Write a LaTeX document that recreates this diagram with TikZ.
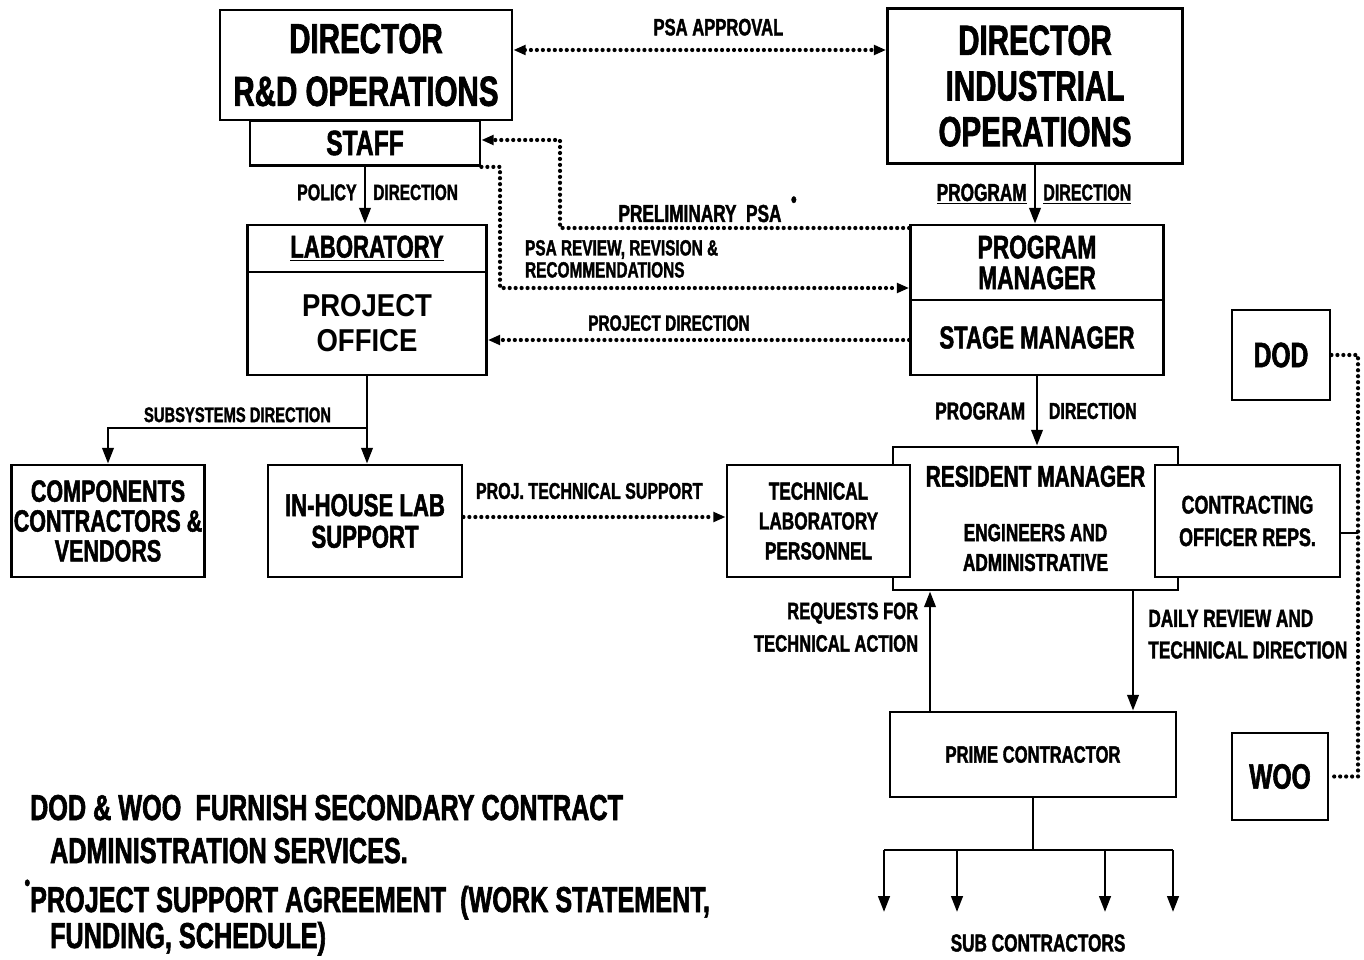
\documentclass[tikz,border=0pt]{standalone}
\usepackage{fontspec}
\usetikzlibrary{arrows.meta}
\newfontfamily\heavy{Liberation Sans}[FakeStretch=0.7,FakeBold=1.6]
\newfontfamily\plainsans{Liberation Sans}[FakeStretch=0.87]

\tikzset{
  box/.style={draw, line width=1.6pt, fill=white, inner sep=0pt, align=center},
  sz/.style 2 args={minimum width=#1*0.02cm, minimum height=#2*0.02cm},
  fnt/.style 2 args={font=\heavy\bfseries\fontsize{#1}{#2}\selectfont},
  lbl/.style={inner sep=1pt},
  feed/.style={line width=1.5pt, -{Triangle[length=9pt,width=6.5pt]}},
  dots/.style={line width=2.4pt, line cap=round, dash pattern=on 0pt off 3.4pt},
  >={Triangle[length=7pt,width=5.5pt]},
}

\begin{document}
\begin{tikzpicture}[x=0.02cm,y=-0.02cm]
\useasboundingbox (0,0) rectangle (1364,959);

% R&D side
\node[box, sz={230}{45}, fnt={20}{24}] (staff) at (365,143) {STAFF};
\node[box, sz={292}{110}, fnt={24}{30}] (dirrd) at (366,65) {DIRECTOR\\R\&D OPERATIONS};
\node[box, sz={239}{47}, fnt={18}{21}] (lab) at (367,248.5) {\underline{LABORATORY}};
\node[box, sz={239}{103}, font=\plainsans\bfseries\fontsize{18}{20}\selectfont] (projoff) at (367,323.5) {PROJECT\\OFFICE};
\node[box, sz={193}{112}, fnt={17.5}{17}] (comp) at (108,521) {COMPONENTS\\CONTRACTORS \&\\VENDORS};
\node[box, sz={194}{112}, fnt={18}{18}] (inhouse) at (365,521) {IN-HOUSE LAB\\SUPPORT};

% industrial side
\node[box, sz={295}{155}, fnt={24}{26}] (dirind) at (1035,86) {DIRECTOR\\INDUSTRIAL\\OPERATIONS};
\node[box, sz={253}{75}, fnt={18.5}{17.5}] (progman) at (1037,262.5) {PROGRAM\\MANAGER};
\node[box, sz={253}{75}, fnt={18}{20}] (stageman) at (1037,337.5) {STAGE MANAGER};
\node[box, sz={285}{143}, fnt={14}{17}] (resident) at (1035.5,518.5) {{\fontsize{17}{20}\selectfont RESIDENT MANAGER}\\[14pt]ENGINEERS AND\\ADMINISTRATIVE};
\node[box, sz={183}{112}, fnt={14}{17}] (techlab) at (818.5,521) {TECHNICAL\\LABORATORY\\PERSONNEL};
\node[box, sz={185}{112}, fnt={14.5}{18.5}] (cor) at (1247.5,521) {CONTRACTING\\OFFICER REPS.};
\node[box, sz={286}{85}, fnt={13.5}{16}] (prime) at (1033,754.5) {PRIME CONTRACTOR};
\node[box, sz={98}{90}, fnt={20}{24}] (dod) at (1281,355) {DOD};
\node[box, sz={96}{87}, fnt={20}{24}] (woo) at (1280,776.5) {WOO};
\node[lbl, fnt={14}{16}] (subs) at (1038,943) {SUB CONTRACTORS};

% bends and bus
\coordinate (prelimbend) at (560,140);
\coordinate (reviewbend) at (500,288);
\coordinate (subsplit) at (367,428);
\coordinate (reqx) at (930,0);
\coordinate (dailyx) at (1133,0);
\coordinate (subbar) at (1033,850);
\coordinate (busline) at (1358,0);
\foreach \xx [count=\i] in {884,957,1105,1173} \coordinate (sub\i) at (\xx,912);

% dotted links
\draw[dots, <->] (dirrd.east |- 0,50) -- node[lbl, pos=0.55, above=6pt, fnt={13.5}{16}] (lapprov) {PSA APPROVAL} (dirind.west |- 0,50);
\draw[dots, ->] (progman.west |- 0,228) -| (prelimbend) -- (staff.east |- prelimbend);
\node[lbl, fnt={14}{16}, anchor=base] (lprelim) at (700,222) {PRELIMINARY\ \ PSA\rlap{\raisebox{.6em}{\ \ \fontsize{13}{13}\selectfont\textbullet}}};
\draw[dots, ->] (staff.south east) -| (reviewbend) -- (progman.west |- reviewbend);
\node[lbl, fnt={12.5}{12.5}, anchor=north west, align=left] (lreview) at (523,238) {PSA REVIEW, REVISION \&\\RECOMMENDATIONS};
\draw[dots, ->] (stageman.west |- 0,340) -- node[lbl, pos=0.57, above=3pt, fnt={12.5}{15}] (lprojdir) {PROJECT DIRECTION} (projoff.east |- 0,340);
\draw[dots, ->] (inhouse.east |- 0,517) -- node[lbl, pos=0.48, above=8pt, fnt={13}{15}] (ltechsup) {PROJ. TECHNICAL SUPPORT} (techlab.west |- 0,517);
\draw[dots] (dod.east) -- (dod.east -| busline) -- (woo.east -| busline) -- (woo.east);
\draw[line width=1.2pt] (cor.east |- 0,533) -- (busline |- 0,533);

% solid links
\draw[feed] (staff.south) -- node[lbl, pos=0.45, left=3pt, fnt={13}{15}] (lpolicy) {POLICY} node[lbl, pos=0.45, right=3pt, fnt={12.5}{15}] (lpoldir) {DIRECTION} (staff.south |- lab.north);
\draw[feed] (dirind.south) -- node[lbl, pos=0.5, left=3pt, fnt={14}{16}] (ltopprog) {\underline{PROGRAM}} node[lbl, pos=0.5, right=3pt, fnt={13}{16}] (ltopdir) {\underline{DIRECTION}} (dirind.south |- progman.north);
\draw[feed] (stageman.south) -- node[lbl, left=5pt, fnt={14}{16}] (lprog) {PROGRAM} node[lbl, right=5pt, fnt={13}{16}] (ldir) {DIRECTION} (stageman.south |- resident.north);
\draw[feed] (projoff.south) -- (projoff.south |- inhouse.north);
\draw[feed] (subsplit) -| node[lbl, pos=0.25, above=1.5pt, fnt={12}{14}] (lsubsys) {SUBSYSTEMS DIRECTION} (comp.north);
\draw[feed] (prime.north -| reqx) -- node[lbl, pos=0.7, left=5pt, align=right, fnt={13.5}{18.5}] (lreq) {REQUESTS FOR\\TECHNICAL ACTION} (resident.south -| reqx);
\draw[feed] (resident.south -| dailyx) -- node[lbl, pos=0.36, right=7pt, align=left, fnt={14}{18}] (ldaily) {DAILY REVIEW AND\\TECHNICAL DIRECTION} (prime.north -| dailyx);
\draw[line width=1.5pt] (prime.south) -- (subbar);
\draw[line width=1.5pt] (subbar -| sub1) -- (subbar -| sub4);
\foreach \i in {1,...,4} \draw[feed] (subbar -| sub\i) -- (sub\i);

% notes
\node[lbl, fnt={20.5}{24}, anchor=base west] (note1) at (28,820) {DOD \& WOO\ \ FURNISH SECONDARY CONTRACT};
\node[lbl, fnt={20.5}{24}, anchor=base west] (note2) at (48,863) {ADMINISTRATION SERVICES.};
\node[lbl, fnt={20.5}{24}, anchor=base west] (note3) at (28,912) {\llap{\raisebox{.6em}{\fontsize{13}{13}\selectfont\textbullet}}PROJECT SUPPORT AGREEMENT\ \ (WORK STATEMENT,};
\node[lbl, fnt={20.5}{24}, anchor=base west] (note4) at (48,948) {FUNDING, SCHEDULE)};
\end{tikzpicture}
\end{document}
